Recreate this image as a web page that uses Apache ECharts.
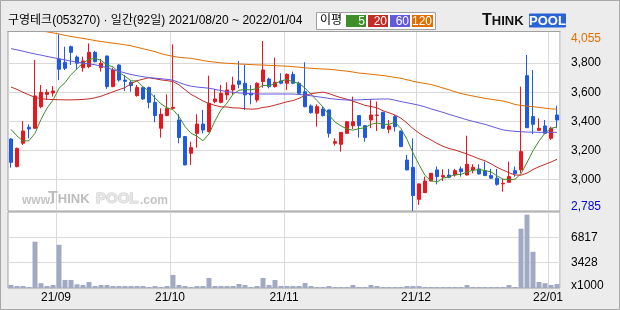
<!DOCTYPE html>
<html><head><meta charset="utf-8">
<script src="https://cdn.jsdelivr.net/npm/echarts@6/dist/echarts.min.js"></script>
<style>html,body{margin:0;padding:0;background:#ececec}#c{width:620px;height:310px}</style>
</head><body><div id="c"></div>
<script>
const dates = [
'2021-08-20','2021-08-23','2021-08-24','2021-08-25','2021-08-26','2021-08-27','2021-08-30','2021-08-31',
'2021-09-01','2021-09-02','2021-09-03','2021-09-06','2021-09-07','2021-09-08','2021-09-09','2021-09-10','2021-09-13','2021-09-14','2021-09-15','2021-09-16','2021-09-17','2021-09-23','2021-09-24','2021-09-27','2021-09-28','2021-09-29','2021-09-30',
'2021-10-01','2021-10-05','2021-10-06','2021-10-07','2021-10-08','2021-10-12','2021-10-13','2021-10-14','2021-10-15','2021-10-18','2021-10-19','2021-10-20','2021-10-21','2021-10-22','2021-10-25','2021-10-26','2021-10-27','2021-10-28','2021-10-29',
'2021-11-01','2021-11-02','2021-11-03','2021-11-04','2021-11-05','2021-11-08','2021-11-09','2021-11-10','2021-11-11','2021-11-12','2021-11-15','2021-11-16','2021-11-17','2021-11-18','2021-11-19','2021-11-22','2021-11-23','2021-11-24','2021-11-25','2021-11-26','2021-11-29','2021-11-30',
'2021-12-01','2021-12-02','2021-12-03','2021-12-06','2021-12-07','2021-12-08','2021-12-09','2021-12-10','2021-12-13','2021-12-14','2021-12-15','2021-12-16','2021-12-17','2021-12-20','2021-12-21','2021-12-22','2021-12-23','2021-12-24','2021-12-27','2021-12-28','2021-12-29','2021-12-30',
'2022-01-03','2022-01-04'];

const opens = [3279,3090,3250,3360,3353,3501,3586,3595,3829,3806,3913,3842,3769,3776,3874,3769,3849,3639,3787,3684,3668,3577,3632,3632,3531,3353,3440,3490,3410,3296,3181,3318,3382,3330,3536,3531,3582,3616,3678,3662,3593,3547,3673,3691,3639,3678,3662,3723,3662,3604,3506,3456,3485,3479,3250,3243,3318,3371,3440,3371,3410,3442,3463,3346,3433,3334,3135,3085,2865,2911,2991,3067,3019,3032,3032,3074,3032,3067,3074,3060,3028,3010,2971,2982,3062,3067,3714,3433,3339,3369,3284,3444];
const closes = [3119,3215,3334,3348,3575,3600,3600,3609,3758,3765,3874,3799,3815,3874,3810,3799,3639,3753,3684,3675,3646,3632,3554,3531,3440,3449,3490,3497,3289,3101,3220,3382,3341,3524,3554,3593,3616,3650,3655,3582,3582,3662,3753,3639,3668,3662,3723,3662,3593,3501,3460,3501,3440,3318,3261,3325,3398,3398,3371,3289,3444,3444,3353,3369,3364,3227,3067,2891,2971,2991,3044,3021,3028,3016,3062,3055,3106,3085,3039,3028,3010,2968,2975,3021,3042,3193,3357,3380,3353,3318,3353,3410];
const lows = [3083,3085,3238,3284,3348,3490,3547,3570,3684,3753,3787,3753,3742,3765,3806,3742,3623,3635,3673,3609,3604,3570,3547,3490,3394,3289,3436,3485,3250,3100,3101,3220,3318,3325,3524,3524,3547,3582,3627,3479,3517,3531,3632,3627,3632,3655,3616,3655,3582,3497,3453,3364,3433,3289,3234,3193,3316,3348,3289,3261,3353,3334,3350,3318,3330,3225,3065,2785,2827,2909,2989,2968,2991,3010,3021,3021,3030,3044,3037,3026,3008,2959,2918,2980,3021,3044,3355,3312,3334,3316,3273,3353];
const highs = [3285,3220,3403,3380,3822,3650,3620,3643,3998,3913,3920,3852,3845,3936,3884,3829,3852,3769,3792,3719,3678,3650,3639,3639,3582,3490,3586,3929,3449,3300,3261,3449,3479,3714,3623,3650,3668,3707,3815,3787,3650,3668,3952,3700,3838,3730,3730,3742,3673,3806,3517,3517,3501,3482,3284,3327,3400,3570,3442,3373,3554,3536,3465,3410,3444,3336,3170,3284,2973,3021,3046,3090,3071,3074,3074,3090,3302,3106,3106,3124,3074,3074,3005,3124,3090,3639,3856,3753,3421,3410,3364,3508];
const volumes = [406,271,271,140,6233,650,271,406,5826,1084,1084,500,406,813,271,406,406,271,271,271,271,271,271,140,271,140,271,1760,406,271,140,271,271,1355,271,271,271,271,540,406,140,271,1355,406,1084,271,271,271,271,680,271,140,140,271,140,140,140,406,140,140,406,271,140,140,140,140,271,271,271,140,140,140,140,140,140,140,406,140,140,140,140,140,140,406,140,7995,9890,4878,813,650,406,540];
const ma5 = [3345,3300,3265,3268,3318,3414,3491,3546,3628,3666,3721,3761,3802,3825,3834,3819,3787,3775,3737,3710,3679,3678,3638,3608,3561,3521,3493,3481,3433,3365,3319,3298,3267,3314,3404,3479,3526,3587,3614,3619,3617,3626,3647,3644,3661,3677,3689,3671,3662,3628,3588,3543,3499,3444,3396,3369,3348,3340,3351,3356,3380,3389,3380,3380,3395,3351,3276,3184,3104,3029,2993,2984,3011,3020,3034,3036,3053,3065,3069,3063,3054,3026,3004,3000,3003,3040,3118,3199,3265,3320,3352,3363];
const ma20 = [3636,3620,3600,3582,3565,3556,3552,3550,3549,3548,3548,3549,3551,3555,3562,3573,3588,3603,3618,3632,3659,3679,3690,3700,3693,3685,3680,3674,3651,3618,3585,3564,3540,3523,3510,3500,3499,3493,3492,3487,3484,3486,3496,3501,3512,3523,3535,3543,3558,3578,3590,3596,3601,3591,3576,3563,3552,3539,3525,3510,3503,3493,3473,3459,3444,3422,3389,3351,3320,3294,3273,3249,3229,3214,3204,3190,3176,3160,3143,3130,3109,3085,3066,3048,3032,3031,3045,3070,3089,3105,3121,3140];
const ma60 = [3900,3891,3882,3872,3863,3855,3846,3838,3830,3822,3814,3806,3800,3795,3789,3780,3768,3755,3744,3733,3722,3714,3707,3701,3697,3693,3689,3683,3667,3652,3642,3636,3632,3628,3620,3612,3605,3600,3596,3593,3591,3589,3588,3588,3588,3588,3588,3588,3585,3581,3576,3570,3564,3558,3553,3549,3547,3547,3548,3550,3552,3553,3554,3554,3546,3536,3528,3520,3511,3500,3486,3474,3462,3448,3436,3424,3411,3400,3390,3380,3367,3354,3342,3336,3332,3329,3327,3326,3325,3325,3325,3325];
const ma120 = [4055,4048,4041,4034,4027,4021,4015,4008,4000,3991,3983,3976,3970,3963,3955,3949,3943,3937,3932,3926,3919,3909,3899,3889,3879,3865,3855,3847,3840,3836,3833,3826,3818,3811,3807,3802,3799,3797,3794,3792,3790,3788,3787,3785,3783,3781,3779,3776,3772,3768,3765,3762,3760,3758,3754,3749,3745,3739,3732,3728,3724,3719,3715,3709,3702,3696,3686,3676,3667,3661,3653,3642,3629,3617,3604,3592,3582,3574,3566,3558,3552,3546,3540,3530,3516,3510,3505,3501,3496,3491,3486,3484];
const priceMin = 2785, priceMax = 4055;
const priceTicks = [3000, 3200, 3400, 3600, 3800];
const volMax = 10245;
const volTicks = [3428, 6817];
const maNames = ['5', '20', '60', '120'];
const maColors = ['#3f8f28', '#c22d28', '#6459dc', '#e06e00'];
const UP = '#e8161e', DN = '#1e5be2';

const numFont = '"Liberation Sans", Arial, sans-serif';
const mixFont = '"Liberation Sans", "Noto Sans CJK KR", sans-serif';
const fmt = v => String(v).replace(/\B(?=(\d{3})+(?!\d))/g, ',');
const isMonthStart = i => i > 0 && i < dates.length && dates[i].slice(0, 7) !== dates[i - 1].slice(0, 7);
const gridColor = '#d9d9d9', borderColor = '#a0a0a0';

const chart = echarts.init(document.getElementById('c'));
const maSeries = [ma5, ma20, ma60, ma120].map((d, k) => ({
  type: 'line', name: 'MA' + maNames[k], xAxisIndex: 0, yAxisIndex: 0, data: d,
  symbol: 'none', lineStyle: { width: 1, color: maColors[k] }, z: 3, silent: true
}));

const legendEls = [];
legendEls.push({ type: 'rect', shape: { x: 316.5, y: 12.5, width: 119, height: 17 }, style: { fill: '#fff', stroke: borderColor }, z: 20 });
legendEls.push({ type: 'text', x: 320, y: 21, style: { text: '이평', font: '12px ' + mixFont, fill: '#000', verticalAlign: 'middle' }, z: 21 });
const boxX = [346, 368, 390, 412], boxW = [20, 20, 20, 21];
maNames.forEach((n, k) => {
  legendEls.push({ type: 'rect', shape: { x: boxX[k], y: 15, width: boxW[k], height: 12 }, style: { fill: maColors[k] }, z: 21 });
  legendEls.push({ type: 'text', x: boxX[k] + boxW[k] - 1, y: 21.5, style: { text: n, font: '12px ' + numFont, fill: '#fff', align: 'right', verticalAlign: 'middle' }, z: 22 });
});

const option = {
  animation: false,
  backgroundColor: '#ececec',
  grid: [
    { left: 8, width: 552, top: 26, height: 185, show: true, backgroundColor: '#fff', borderColor: borderColor, borderWidth: 1 },
    { left: 8, width: 552, top: 212, height: 76, show: true, backgroundColor: '#fff', borderColor: borderColor, borderWidth: 1 }
  ],
  xAxis: [
    { type: 'category', gridIndex: 0, data: dates, boundaryGap: true,
      axisLine: { show: false }, axisTick: { show: false }, axisLabel: { show: false },
      splitLine: { show: true, interval: (i) => isMonthStart(i), lineStyle: { color: gridColor, width: 1 } } },
    { type: 'category', gridIndex: 1, data: dates, boundaryGap: true,
      axisLine: { show: false }, axisTick: { show: false },
      axisLabel: { show: true, interval: (i) => isMonthStart(i), formatter: v => v.slice(2, 4) + '/' + v.slice(5, 7),
        color: '#000', fontSize: 12, fontFamily: numFont, margin: 4, padding: [0, 6, 0, 0] },
      splitLine: { show: true, interval: (i) => isMonthStart(i), lineStyle: { color: gridColor, width: 1 } } }
  ],
  yAxis: [
    { type: 'value', gridIndex: 0, position: 'right', min: priceMin, max: priceMax, scale: true,
      axisLine: { show: false },
      axisTick: { show: false, customValues: priceTicks },
      splitLine: { show: true, lineStyle: { color: gridColor, width: 1 } },
      axisLabel: { customValues: [priceMin].concat(priceTicks, [priceMax]), margin: 11, align: 'left',
        color: '#000', fontSize: 12, fontFamily: numFont,
        formatter: v => v === priceMax ? '{mx|' + fmt(v) + '}' : v === priceMin ? '{mn|' + fmt(v) + '}' : fmt(v),
        rich: {
          mx: { color: '#e07000', fontSize: 12, fontFamily: numFont, padding: [26, 0, 0, 0] },
          mn: { color: '#0000dd', fontSize: 12, fontFamily: numFont, padding: [0, 0, 9, 0] }
        } } },
    { type: 'value', gridIndex: 1, position: 'right', min: 0, max: volMax,
      axisLine: { show: false },
      axisTick: { show: false, customValues: volTicks },
      splitLine: { show: true, lineStyle: { color: gridColor, width: 1 } },
      axisLabel: { customValues: [0].concat(volTicks), margin: 11, align: 'left',
        color: '#000', fontSize: 12, fontFamily: numFont,
        formatter: v => v === 0 ? '{u|x1000}' : String(v),
        rich: { u: { fontSize: 12, fontFamily: numFont, color: '#000', padding: [0, 0, 4, 0] } } } }
  ],
  series: [
    { type: 'candlestick', xAxisIndex: 0, yAxisIndex: 0, barWidth: 4, silent: true,
      data: dates.map((d, i) => [opens[i], closes[i], lows[i], highs[i]]),
      itemStyle: { color: UP, color0: DN, borderColor: UP, borderColor0: DN, borderWidth: 1 }, z: 2 },
    ...maSeries,
    { type: 'bar', xAxisIndex: 1, yAxisIndex: 1, data: volumes, barWidth: 5, silent: true,
      itemStyle: { color: '#a2aac3' } }
  ],
  graphic: { elements: [
    { type: 'rect', shape: { x: 0, y: 0, width: 620, height: 31 }, style: { fill: '#ececec' }, z: 10, silent: true },
    { type: 'line', shape: { x1: 7.5, y1: 31.5, x2: 560.5, y2: 31.5 }, style: { stroke: borderColor, lineWidth: 1 }, z: 11 },
    { type: 'text', x: 8, y: 20.5, style: { text: '구영테크(053270) · 일간(92일) 2021/08/20 ~ 2022/01/04', font: '12px ' + mixFont, fill: '#000', verticalAlign: 'middle' }, z: 12 },
    ...legendEls,
    { type: 'text', x: 482, y: 21, style: { text: '{a|T}{b|HINK}', rich: { a: { font: 'bold 16px ' + numFont, fill: '#111' }, b: { font: 'bold 13px ' + numFont, fill: '#111' } }, verticalAlign: 'middle' }, z: 12 },
    { type: 'rect', shape: { x: 529, y: 13.5, width: 37, height: 14, r: 1 }, style: { fill: '#2a63d6' }, z: 12 },
    { type: 'text', x: 547.5, y: 21, style: { text: 'POOL', font: 'bold 13px ' + numFont, fill: '#fff', align: 'center', verticalAlign: 'middle' }, z: 13 },
    { type: 'text', x: 22, y: 201, style: { text: 'www.', font: 'bold 12px ' + numFont, fill: '#c4c4c4', verticalAlign: 'middle' }, z: 1, silent: true },
    { type: 'text', x: 48, y: 199, style: { text: '{a|T}{b|HINK}', rich: { a: { font: 'bold 16px ' + numFont, fill: '#bcbcbc' }, b: { font: 'bold 13px ' + numFont, fill: '#bcbcbc' } }, verticalAlign: 'middle' }, z: 1, silent: true },
    { type: 'text', x: 96, y: 199, style: { text: 'POOL', font: 'bold 15px ' + numFont, fill: '#e6e6e6', stroke: '#c8c8c8', lineWidth: 1, verticalAlign: 'middle' }, z: 1, silent: true },
    { type: 'text', x: 140, y: 201, style: { text: '.com', font: 'bold 12px ' + numFont, fill: '#c4c4c4', verticalAlign: 'middle' }, z: 1, silent: true },
    { type: 'rect', shape: { x: 0.5, y: 0.5, width: 619, height: 309 }, style: { fill: 'none', stroke: '#a8a8a8', lineWidth: 1 }, z: 30, silent: true }
  ] }
};
chart.setOption(option);
</script></body></html>
